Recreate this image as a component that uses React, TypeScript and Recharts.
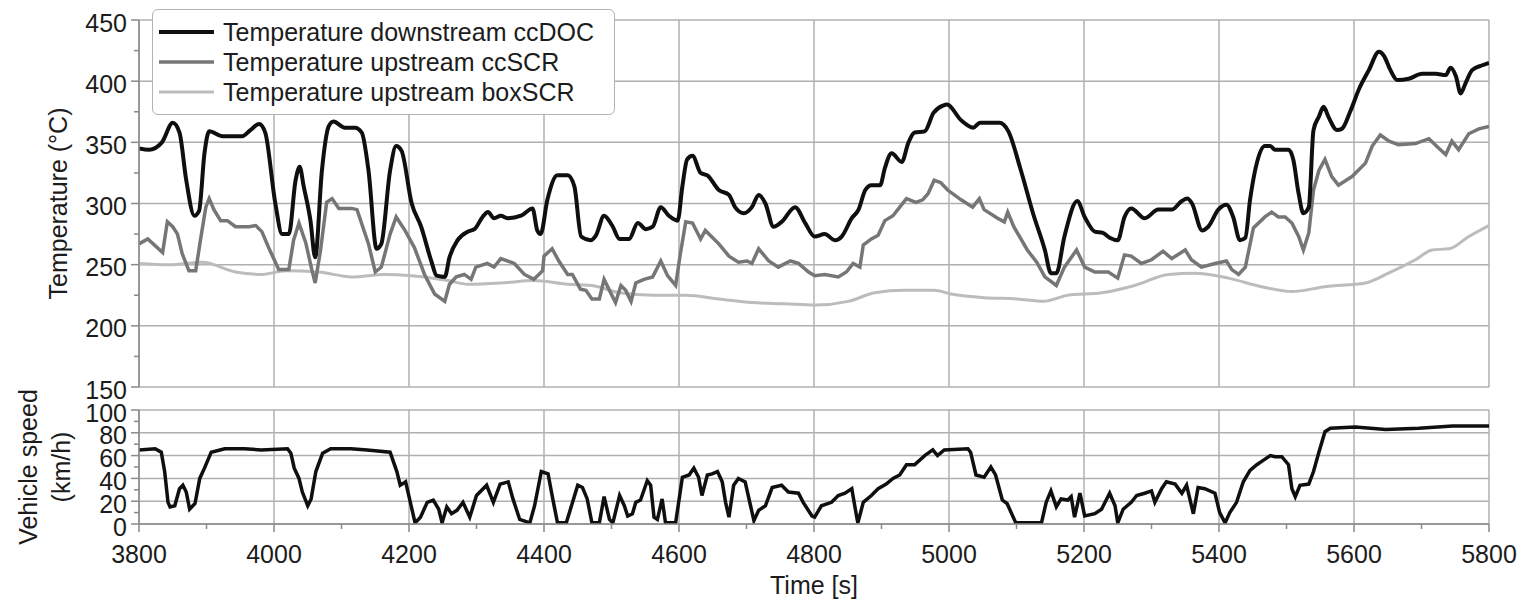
import React from 'react';
import { LineChart, Line, XAxis, YAxis, CartesianGrid, Legend } from 'recharts';

const FONT = '"Liberation Sans", Arial, Helvetica, sans-serif';
const TEXT = '#1c1c1c';
const GRID = '#b0b0b0';
const FS = 25;

// axis ticks (major ones get labels + grid lines)
const timeTicks = [3800, 3900, 4000, 4100, 4200, 4300, 4400, 4500, 4600, 4700, 4800, 4900, 5000, 5100, 5200, 5300, 5400, 5500, 5600, 5700, 5800];
const timeMajor = [3800, 4000, 4200, 4400, 4600, 4800, 5000, 5200, 5400, 5600, 5800];
const tempTicks = [150, 175, 200, 225, 250, 275, 300, 325, 350, 375, 400, 425, 450];
const tempMajor = [150, 200, 250, 300, 350, 400, 450];
const speedTicks = [0, 10, 20, 30, 40, 50, 60, 70, 80, 90, 100];
const speedMajor = [0, 20, 40, 60, 80, 100];

const legendNames = ['Temperature downstream ccDOC', 'Temperature upstream ccSCR', 'Temperature upstream boxSCR'];
const legendColors = ['#0f0f0f', '#767676', '#bcbcbc'];
const legendWidths = [4, 3.5, 3];

// [time s, temperature °C]
const docSeries = [
  [3800, 345], [3815, 344], [3834, 350], [3850, 366], [3860, 358], [3870, 319], [3882, 290], [3889, 294],
  [3897, 341], [3904, 359], [3924, 355], [3953, 355], [3965, 360], [3978, 365], [3987, 358], [4002, 300],
  [4012, 275], [4022, 275], [4032, 319], [4038, 330], [4044, 314], [4054, 286], [4061, 256], [4071, 327],
  [4081, 363], [4088, 367], [4105, 362], [4120, 362], [4130, 358], [4140, 327], [4152, 263], [4159, 267],
  [4172, 327], [4181, 347], [4189, 343], [4204, 300], [4218, 281], [4233, 253], [4241, 241], [4253, 240],
  [4260, 256], [4272, 270], [4287, 277], [4297, 279], [4309, 289], [4317, 293], [4326, 288], [4336, 290],
  [4346, 288], [4366, 290], [4383, 296], [4390, 278], [4395, 275], [4405, 303], [4420, 323], [4435, 323],
  [4445, 314], [4455, 273], [4469, 270], [4477, 274], [4489, 290], [4501, 282], [4512, 271], [4526, 271],
  [4539, 284], [4551, 279], [4561, 281], [4573, 297], [4585, 290], [4598, 286], [4605, 314], [4612, 336],
  [4620, 339], [4632, 325], [4642, 323], [4659, 311], [4674, 307], [4683, 297], [4696, 292], [4708, 297],
  [4718, 307], [4728, 300], [4740, 281], [4752, 285], [4772, 297], [4787, 284], [4801, 273], [4816, 275],
  [4831, 270], [4841, 273], [4856, 288], [4866, 295], [4876, 311], [4885, 315], [4898, 315], [4905, 329],
  [4915, 341], [4930, 334], [4940, 350], [4949, 358], [4964, 359], [4977, 374], [4991, 380], [4997, 381],
  [5018, 368], [5036, 362], [5046, 366], [5075, 366], [5088, 359], [5106, 328], [5125, 291], [5142, 262],
  [5151, 243], [5159, 243], [5171, 273], [5190, 302], [5201, 289], [5216, 277], [5228, 276], [5238, 272],
  [5250, 270], [5260, 289], [5270, 296], [5290, 288], [5310, 295], [5330, 295], [5345, 302], [5353, 304],
  [5360, 300], [5375, 278], [5384, 281], [5399, 295], [5411, 299], [5421, 289], [5431, 270], [5439, 272],
  [5446, 303], [5456, 333], [5468, 347], [5476, 347], [5483, 344], [5503, 344], [5510, 336], [5518, 308],
  [5525, 292], [5533, 297], [5540, 360], [5548, 371], [5555, 379], [5562, 371], [5575, 360], [5582, 361],
  [5595, 376], [5607, 393], [5622, 409], [5637, 424], [5644, 421], [5654, 409], [5664, 401], [5681, 402],
  [5701, 406], [5721, 406], [5736, 405], [5743, 411], [5751, 404], [5758, 390], [5765, 398], [5775, 409],
  [5790, 413], [5800, 415],
];

const scrSeries = [
  [3800, 267], [3813, 271], [3823, 266], [3835, 260], [3842, 285], [3850, 281], [3857, 275], [3864, 259],
  [3874, 245], [3884, 245], [3891, 270], [3899, 297], [3904, 304], [3911, 295], [3921, 286], [3931, 286],
  [3943, 281], [3963, 281], [3973, 282], [3982, 277], [3992, 264], [4007, 246], [4022, 246], [4029, 270],
  [4037, 284], [4047, 268], [4056, 246], [4061, 235], [4069, 262], [4078, 301], [4086, 304], [4096, 296],
  [4115, 296], [4123, 295], [4140, 267], [4150, 244], [4159, 248], [4172, 275], [4181, 289], [4194, 278],
  [4208, 264], [4223, 242], [4238, 226], [4253, 220], [4260, 234], [4270, 240], [4282, 242], [4292, 238],
  [4299, 248], [4316, 251], [4326, 248], [4336, 255], [4356, 251], [4371, 242], [4385, 238], [4398, 245],
  [4400, 257], [4412, 263], [4422, 253], [4435, 242], [4442, 242], [4454, 230], [4462, 229], [4471, 222],
  [4482, 222], [4489, 238], [4497, 229], [4506, 219], [4514, 233], [4521, 229], [4529, 220], [4536, 235],
  [4548, 238], [4561, 240], [4573, 253], [4583, 241], [4595, 233], [4602, 259], [4610, 285], [4620, 284],
  [4632, 271], [4639, 278], [4659, 267], [4674, 257], [4688, 252], [4701, 253], [4708, 251], [4718, 263],
  [4733, 253], [4747, 248], [4765, 253], [4777, 251], [4792, 244], [4801, 241], [4816, 242], [4836, 240],
  [4848, 244], [4858, 251], [4868, 248], [4873, 266], [4885, 271], [4895, 274], [4905, 286], [4917, 290],
  [4927, 297], [4937, 304], [4951, 301], [4961, 303], [4969, 308], [4978, 319], [4988, 317], [4998, 311],
  [5018, 303], [5035, 297], [5045, 304], [5052, 295], [5072, 288], [5082, 285], [5087, 293], [5096, 281],
  [5116, 262], [5130, 252], [5142, 240], [5159, 233], [5171, 248], [5189, 262], [5201, 248], [5216, 244],
  [5236, 244], [5250, 239], [5260, 258], [5270, 257], [5285, 251], [5300, 254], [5317, 261], [5330, 255],
  [5350, 262], [5359, 254], [5374, 248], [5394, 251], [5411, 253], [5419, 246], [5429, 242], [5439, 248],
  [5451, 280], [5468, 289], [5478, 293], [5488, 289], [5498, 289], [5508, 284], [5518, 273], [5525, 262],
  [5533, 276], [5540, 311], [5548, 327], [5557, 336], [5567, 322], [5577, 315], [5597, 322], [5617, 333],
  [5627, 347], [5639, 356], [5652, 351], [5666, 348], [5691, 349], [5711, 353], [5726, 345], [5736, 340],
  [5745, 351], [5755, 344], [5770, 357], [5785, 361], [5800, 363],
];

const boxSeries = [
  [3800, 251], [3845, 250], [3894, 252], [3943, 244], [3982, 242], [4017, 245], [4066, 244], [4115, 240],
  [4164, 242], [4204, 241], [4258, 237], [4287, 234], [4336, 235], [4385, 237], [4435, 234], [4471, 233],
  [4512, 227], [4561, 225], [4610, 225], [4659, 222], [4708, 219], [4757, 218], [4801, 217], [4851, 220],
  [4890, 227], [4934, 229], [4978, 229], [5003, 226], [5052, 223], [5101, 222], [5140, 220], [5176, 225],
  [5226, 227], [5275, 233], [5325, 242], [5364, 243], [5414, 239], [5463, 232], [5508, 228], [5557, 232],
  [5617, 235], [5651, 243], [5691, 254], [5716, 262], [5741, 263], [5770, 273], [5800, 282],
];

// [time s, vehicle speed km/h]
const speedSeries = [
  [3800, 65], [3824, 66], [3833, 63], [3838, 46], [3843, 19], [3846, 15], [3853, 16], [3860, 31],
  [3865, 34], [3870, 28], [3875, 13], [3883, 18], [3890, 40], [3897, 49], [3907, 63], [3927, 66],
  [3956, 66], [3981, 65], [4020, 66], [4025, 62], [4030, 49], [4037, 40], [4042, 28], [4050, 16],
  [4055, 22], [4062, 46], [4072, 62], [4084, 66], [4114, 66], [4138, 65], [4172, 63], [4182, 46],
  [4187, 34], [4195, 37], [4202, 19], [4209, 1], [4217, 6], [4227, 19], [4236, 21], [4244, 13],
  [4249, 1], [4256, 15], [4263, 9], [4271, 12], [4280, 19], [4290, 6], [4300, 25], [4315, 34],
  [4325, 19], [4335, 35], [4347, 37], [4354, 22], [4364, 4], [4379, 1], [4386, 16], [4396, 46],
  [4406, 44], [4413, 22], [4420, 1], [4433, 1], [4450, 34], [4457, 32], [4464, 22], [4471, 1],
  [4482, 1], [4489, 24], [4497, 4], [4502, 1], [4512, 25], [4519, 16], [4524, 7], [4531, 9],
  [4536, 19], [4543, 21], [4553, 38], [4558, 34], [4563, 6], [4568, 4], [4575, 22], [4580, 1],
  [4595, 1], [4605, 41], [4615, 43], [4622, 49], [4629, 41], [4634, 25], [4642, 43], [4649, 44],
  [4657, 46], [4664, 37], [4669, 19], [4674, 6], [4681, 34], [4688, 40], [4698, 37], [4706, 16],
  [4711, 3], [4718, 12], [4728, 16], [4738, 32], [4752, 34], [4762, 28], [4777, 27], [4784, 19],
  [4797, 7], [4801, 6], [4811, 16], [4826, 19], [4836, 25], [4846, 27], [4856, 31], [4863, 7],
  [4865, 1], [4873, 19], [4885, 25], [4895, 31], [4907, 35], [4917, 40], [4927, 43], [4937, 52],
  [4949, 52], [4964, 60], [4976, 65], [4983, 60], [4993, 65], [5028, 66], [5032, 63], [5040, 43],
  [5052, 41], [5062, 50], [5069, 43], [5079, 21], [5086, 18], [5099, 1], [5137, 1], [5144, 19],
  [5151, 29], [5159, 15], [5166, 22], [5176, 21], [5181, 24], [5186, 6], [5194, 27], [5201, 7],
  [5216, 9], [5226, 13], [5238, 27], [5246, 16], [5250, 1], [5258, 13], [5270, 19], [5278, 25],
  [5290, 27], [5300, 29], [5305, 19], [5315, 31], [5322, 37], [5335, 35], [5345, 27], [5352, 34],
  [5362, 9], [5369, 32], [5379, 31], [5394, 27], [5401, 10], [5409, 1], [5416, 10], [5426, 19],
  [5436, 37], [5446, 47], [5456, 52], [5466, 56], [5476, 60], [5483, 59], [5493, 59], [5503, 52],
  [5508, 31], [5513, 24], [5520, 34], [5533, 35], [5540, 46], [5548, 63], [5557, 81], [5565, 84],
  [5602, 85], [5647, 83], [5696, 84], [5746, 86], [5800, 86],
];

const toPoints = (pairs: number[][]) => pairs.map(([t, v]) => ({ t, v }));
const docData = toPoints(docSeries);
const scrData = toPoints(scrSeries);
const boxData = toPoints(boxSeries);
const speedData = toPoints(speedSeries);

const TICK_SIZE = 8;
const TICK_MARGIN = 4;

const LeftTick = ({ x, y, payload, major }: any) => {
  const isMajor = major.includes(payload.value);
  const ax = x + TICK_SIZE + TICK_MARGIN;
  return (
    <g>
      <line x1={ax - (isMajor ? 8 : 5)} x2={ax} y1={y} y2={y} stroke="#8a8a8a" strokeWidth={1.5} />
      {isMajor && (
        <text x={x} y={y} dy="0.46em" textAnchor="end" fontSize={FS} fill={TEXT} fontFamily={FONT}>
          {payload.value}
        </text>
      )}
    </g>
  );
};

const BottomTick = ({ x, y, payload }: any) => {
  const isMajor = timeMajor.includes(payload.value);
  const ay = y - 20;
  return (
    <g>
      <line x1={x} x2={x} y1={ay} y2={ay + (isMajor ? 8 : 5)} stroke="#8a8a8a" strokeWidth={1.5} />
      {isMajor && (
        <text x={x} y={ay + 39} textAnchor="middle" fontSize={FS} fill={TEXT} fontFamily={FONT}>
          {payload.value}
        </text>
      )}
    </g>
  );
};

const VerticalTitle = ({ viewBox, lines, offsets }: any) => {
  const cy = viewBox.y + viewBox.height / 2;
  return (
    <g>
      {lines.map((line: string, i: number) => {
        const cx = viewBox.x + offsets[i];
        return (
          <text
            key={line}
            x={cx}
            y={cy}
            transform={`rotate(-90, ${cx}, ${cy})`}
            textAnchor="middle"
            dominantBaseline="central"
            fontSize={FS}
            fill={TEXT}
            fontFamily={FONT}
          >
            {line}
          </text>
        );
      })}
    </g>
  );
};

const TimeTitle = ({ viewBox }: any) => (
  <text
    x={viewBox.x + viewBox.width / 2}
    y={viewBox.y + 70}
    textAnchor="middle"
    fontSize={FS}
    fill={TEXT}
    fontFamily={FONT}
  >
    Time [s]
  </text>
);

const LegendBox = () => (
  <div
    style={{
      width: 463,
      boxSizing: 'border-box',
      border: '1.5px solid #b3b3b3',
      borderRadius: 6,
      background: '#fff',
      padding: '7px 0 7px 6px',
      fontFamily: FONT,
      fontSize: FS,
      lineHeight: '30px',
      color: TEXT,
    }}
  >
    {legendNames.map((name, i) => (
      <div key={name} style={{ display: 'flex', alignItems: 'center', whiteSpace: 'nowrap' }}>
        <svg width={55} height={10} style={{ marginRight: 9, flex: 'none' }}>
          <line x1={0} x2={55} y1={5} y2={5} stroke={legendColors[i]} strokeWidth={legendWidths[i]} />
        </svg>
        <span>{name}</span>
      </div>
    ))}
  </div>
);

export default function App() {
  return (
    <div style={{ position: 'absolute', left: 0, top: 0, width: 1521, height: 600, background: '#fff', fontFamily: FONT }}>
      <div style={{ position: 'absolute', left: 0, top: 390 }}>
        <LineChart width={1521} height={210} margin={{ top: 20, right: 32, left: 0, bottom: 0 }}>
          <CartesianGrid
            stroke={GRID}
            strokeWidth={1.5}
            horizontalValues={speedMajor}
            verticalValues={timeMajor}
          />
          <XAxis
            dataKey="t"
            type="number"
            domain={[3800, 5800]}
            ticks={timeTicks}
            interval={0}
            height={76}
            tickSize={TICK_SIZE}
            tickMargin={12}
            tickLine={false}
            axisLine={{ stroke: '#8a8a8a', strokeWidth: 1.5 }}
            tick={(p: any) => <BottomTick {...p} />}
            allowDataOverflow
            label={<TimeTitle />}
          />
          <YAxis
            type="number"
            domain={[0, 100]}
            ticks={speedTicks}
            interval={0}
            width={139}
            tickSize={TICK_SIZE}
            tickMargin={TICK_MARGIN}
            tickLine={false}
            axisLine={{ stroke: '#8a8a8a', strokeWidth: 1.5 }}
            tick={(p: any) => <LeftTick {...p} major={speedMajor} />}
            allowDataOverflow
            label={<VerticalTitle lines={['Vehicle speed', '(km/h)']} offsets={[28, 61]} />}
          />
          <Line data={speedData} dataKey="v" name="Vehicle speed" type="linear" stroke="#0f0f0f" strokeWidth={3.5} dot={false} activeDot={false} isAnimationActive={false} />
        </LineChart>
      </div>
      <div style={{ position: 'absolute', left: 0, top: 0 }}>
        <LineChart width={1521} height={410} margin={{ top: 20, right: 32, left: 0, bottom: 23 }}>
          <CartesianGrid
            stroke={GRID}
            strokeWidth={1.5}
            horizontalValues={tempMajor}
            verticalValues={timeMajor}
          />
          <XAxis dataKey="t" type="number" domain={[3800, 5800]} ticks={timeTicks} hide allowDataOverflow />
          <YAxis
            type="number"
            domain={[150, 450]}
            ticks={tempTicks}
            interval={0}
            width={139}
            tickSize={TICK_SIZE}
            tickMargin={TICK_MARGIN}
            tickLine={false}
            axisLine={{ stroke: '#8a8a8a', strokeWidth: 1.5 }}
            tick={(p: any) => <LeftTick {...p} major={tempMajor} />}
            allowDataOverflow
            label={<VerticalTitle lines={['Temperature (°C)']} offsets={[58]} />}
          />
          <Legend
            layout="vertical"
            align="center"
            verticalAlign="middle"
            wrapperStyle={{ left: 152, top: 9, width: 463 }}
            content={() => <LegendBox />}
          />
          <Line data={boxData} dataKey="v" name={legendNames[2]} type="monotone" stroke={legendColors[2]} strokeWidth={legendWidths[2]} dot={false} activeDot={false} isAnimationActive={false} />
          <Line data={scrData} dataKey="v" name={legendNames[1]} type="linear" stroke={legendColors[1]} strokeWidth={legendWidths[1]} dot={false} activeDot={false} isAnimationActive={false} />
          <Line data={docData} dataKey="v" name={legendNames[0]} type="monotone" stroke={legendColors[0]} strokeWidth={legendWidths[0]} dot={false} activeDot={false} isAnimationActive={false} />
        </LineChart>
      </div>
    </div>
  );
}
